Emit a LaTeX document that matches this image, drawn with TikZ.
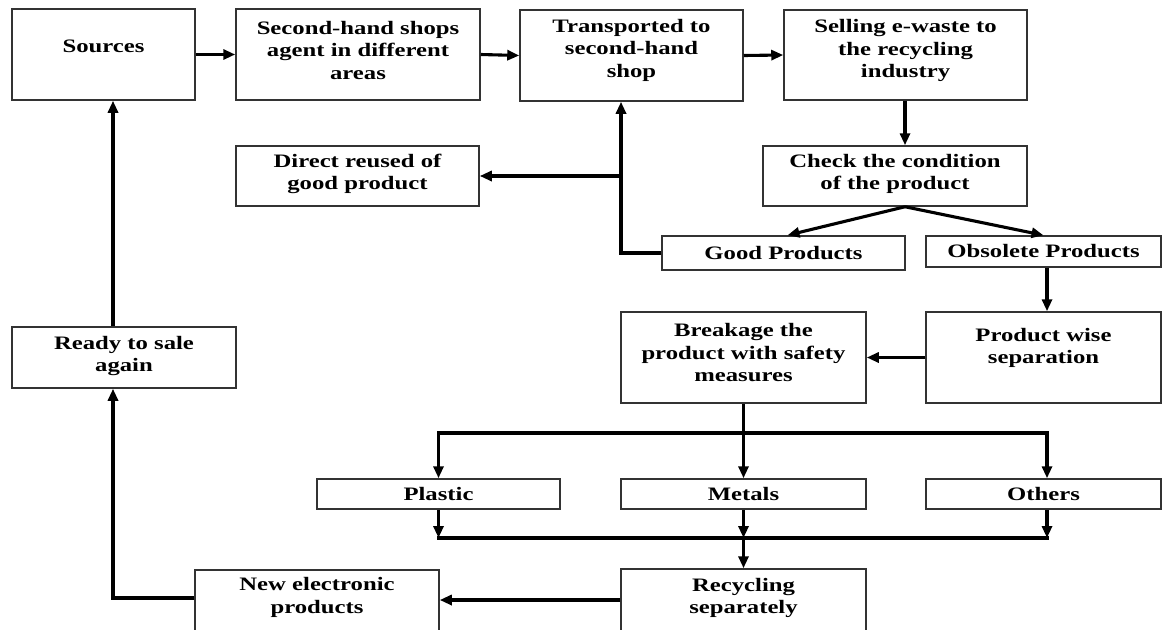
\documentclass[tikz,border=0pt]{standalone}
\usepackage{fontspec}
\setmainfont{Liberation Serif}[FakeStretch=1.3]
\usetikzlibrary{arrows.meta,calc}
\newcommand\mkbox[5]{\node[box,minimum width={(#4-#2)*1pt},minimum height={(#5-#3)*1pt}] (#1) at ({(#2+#4)/2},{(#3+#5)/2}) {};}
\begin{document}
\begin{tikzpicture}[x=1pt,y=-1pt,
  box/.style={draw=black!80,line width=1.5pt,inner sep=0pt,fill=white},
  txt/.style={inner sep=0pt,align=center,font=\fontsize{19}{22.5}\selectfont\bfseries},
  conn/.style={line width=3.1pt,-{Triangle[length=12pt,width=10pt]}},
  wire/.style={line width=3.1pt,line cap=rect}]
\useasboundingbox (0,0) rectangle (1166,629);
\fill[white] (0,0) rectangle (1166,629);
\clip (0,0) rectangle (1166,629);
% boxes
\mkbox{src}{12}{9}{195}{100}
\mkbox{agent}{236}{9}{480}{100}
\mkbox{trans}{520}{10}{743}{101}
\mkbox{sell}{784}{10}{1027}{100}
\mkbox{direct}{236}{146}{479}{206}
\mkbox{check}{763}{146}{1027}{206}
\mkbox{good}{662}{236}{905}{270}
\mkbox{obs}{926}{236}{1161}{267}
\mkbox{ready}{12}{327}{236}{388}
\mkbox{brk}{621}{312}{866}{403}
\mkbox{pws}{926}{312}{1161}{403}
\mkbox{plastic}{317}{479}{560}{509}
\mkbox{metals}{621}{479}{866}{509}
\mkbox{others}{926}{479}{1161}{509}
\mkbox{newel}{195}{570}{439}{640}
\mkbox{recyc}{621}{569}{866}{640}
% texts
\node[txt] (srct) at (103.5,46) {Sources};
\node[txt] (agentt) at (358,50) {Second-hand shops\\agent in different\\areas};
\node[txt] (transt) at (631.5,50) {Transported to\\second-hand\\shop};
\node[txt] (sellt) at (905.5,50.5) {Selling e-waste to\\the recycling\\industry};
\node[txt] (directt) at (357.5,174) {Direct reused of\\good product};
\node[txt] (checkt) at (895,174) {Check the condition\\of the product};
\node[txt] (goodt) at (783.5,253) {Good Products};
\node[txt] (obst) at (1043.5,251.5) {Obsolete Products};
\node[txt] (readyt) at (124,356) {Ready to sale\\again};
\node[txt] (brkt) at (743.5,353) {Breakage the\\product with safety\\measures};
\node[txt] (pwst) at (1043.5,348) {Product wise\\separation};
\node[txt] (plastict) at (438.5,494) {Plastic};
\node[txt] (metalst) at (743.5,494) {Metals};
\node[txt] (otherst) at (1043.5,494) {Others};
\node[txt] (newelt) at (317,597.5) {New electronic\\products};
\node[txt] (recyct) at (743.5,598) {Recycling\\separately};
% helper coordinates
\coordinate (tx) at (621,0);
\coordinate (lx) at (113,0);
\coordinate (sx) at (905,0);
\coordinate (ox) at (1047,0);
\coordinate (top) at (0,433);
\coordinate (bot) at (0,538);
% connectors
\draw[conn] (src.east) -- (agent.west);
\draw[conn] (agent.east) -- (trans.west);
\draw[conn] (trans.east) -- (sell.west);
\draw[conn] (sx |- sell.south) -- (sx |- check.north);
\draw[conn] (sx |- check.south) -- ($(good.north)+(4,0)$);
\draw[conn] (sx |- check.south) -- (obs.north);
\draw[conn] (good.west) -| (tx |- trans.south);
\draw[conn] (tx |- direct.east) -- (direct.east);
\draw[conn] (ox |- obs.south) -- (ox |- pws.north);
\draw[conn] (pws.west) -- (brk.east);
\draw[conn] (brk.south) -- (metals.north);
\draw[conn] (brk.south |- top) -| (plastic.north);
\draw[conn] (brk.south |- top) -| (ox |- others.north);
\draw[wire] (plastic.south |- bot) -- (ox |- bot);
\draw[conn] (plastic.south) -- (plastic.south |- bot);
\draw[conn] (metals.south) -- (metals.south |- bot);
\draw[conn] (ox |- others.south) -- (ox |- bot);
\draw[conn] (metals.south |- bot) -- (recyc.north);
\draw[conn] (recyc.west |- 0,600) -- (newel.east |- 0,600);
\draw[conn] (newel.west |- 0,598) -| (lx |- ready.south);
\draw[conn] (lx |- ready.north) -- (lx |- src.south);
\end{tikzpicture}
\end{document}
